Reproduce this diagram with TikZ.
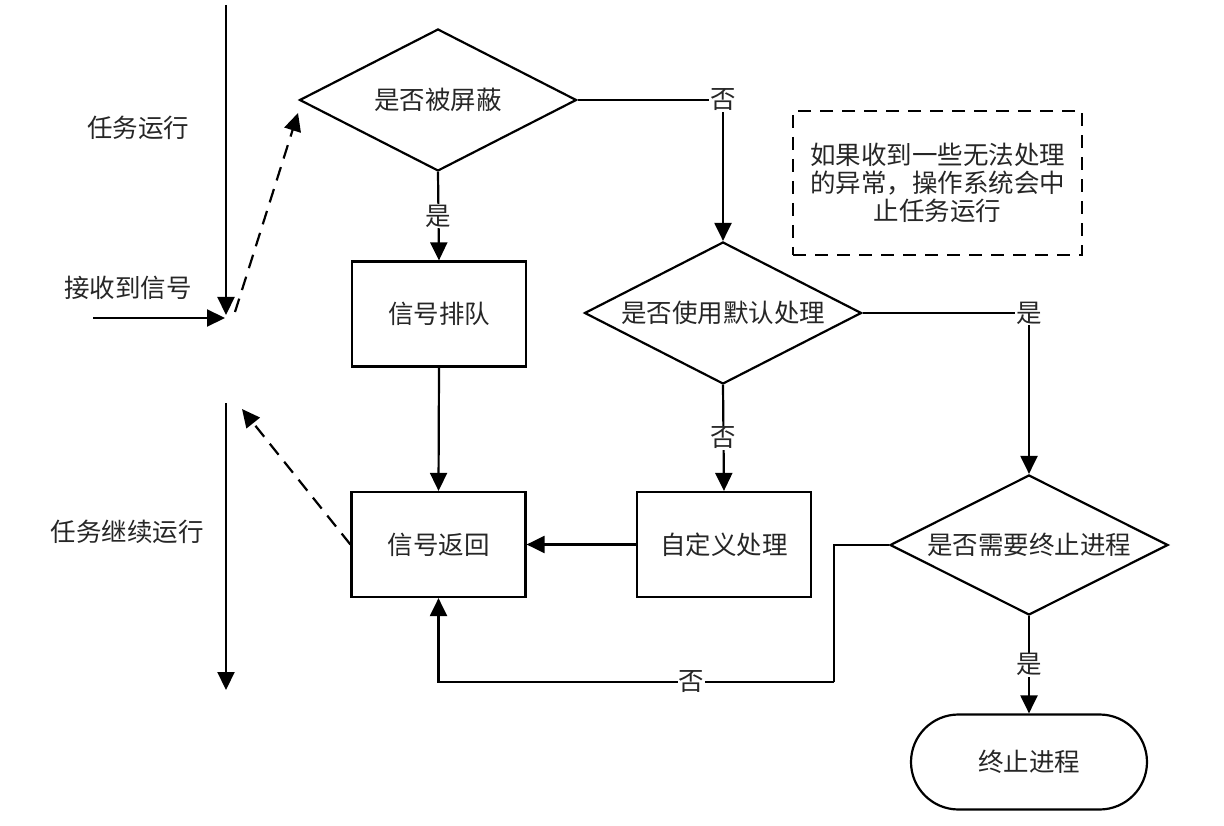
\documentclass[tikz,border=0pt]{standalone}
\usepackage{fontspec}
\setmainfont{Noto Sans CJK SC}
\usetikzlibrary{shapes.geometric,shapes.misc,arrows.meta}
\begin{document}
\begin{tikzpicture}[x=1pt,y=-1pt,
  every node/.style={font=\fontsize{25.5}{28}\selectfont, text=black!85},
  ln/.style={line width=2.2pt, draw=black},
  arr/.style={ln, -{Triangle[length=18pt,width=17pt]}},
  darr/.style={arr, dash pattern=on 14pt off 9pt},
  dec/.style={diamond, ln, shape aspect=1.95, inner sep=0pt, minimum width=277pt, minimum height=142pt},
  box/.style={rectangle, ln, inner sep=0pt, minimum width=174pt, minimum height=105pt},
  term/.style={rounded rectangle, ln, inner sep=0pt, minimum width=236pt, minimum height=95pt},
  note/.style={rectangle, ln, dash pattern=on 13pt off 9pt, inner sep=0pt, minimum width=289pt, minimum height=144pt, align=center},
  lbl/.style={fill=white, inner sep=1pt},
  txt/.style={inner sep=0pt}]
\useasboundingbox (0,0) rectangle (1224,826);

% nodes
\node[dec] (d1) at (438,100) {是否被屏蔽};
\node[dec] (d2) at (723,313) {是否使用默认处理};
\node[dec, minimum width=278pt, minimum height=140pt] (d3) at (1029,545) {是否需要终止进程};
\node[box] (q) at (439,314) {信号排队};
\node[box] (r) at (438.5,544.5) {信号返回};
\node[box] (c) at (724,544.5) {自定义处理};
\node[term] (t) at (1029,762) {终止进程};
\node[note] (n) at (937.5,183) {如果收到一些无法处理\\的异常，操作系统会中\\止任务运行};

\node[txt] (l1) at (138,128) {任务运行};
\node[txt] (l2) at (128,288) {接收到信号};
\node[txt] (l3) at (127,532) {任务继续运行};

% coordinates for free ends
\coordinate (top) at (226,5);
\coordinate (sigv) at (226,315);
\coordinate (in) at (93,318);
\coordinate (sigh) at (225,318);
\coordinate (ds) at (235,312);
\coordinate (dt) at (298,113);
\coordinate (ret) at (242,409);
\coordinate (bt) at (226,403);
\coordinate (bb) at (226,690);
\coordinate (k) at (834,682);

% timeline
\draw[arr] (top) -- (sigv);
\draw[arr] (in) -- (sigh);
\draw[darr] (ds) -- (dt);
\draw[arr] (bt) -- (bb);
\draw[darr] (r.west) -- (ret);

% flow
\draw[arr] (d1.east) -| node[lbl]{否} (d2.north);
\draw[arr] (d1.south) -- node[lbl]{是} (q.north);
\draw[arr] (q.south) -- (r.north);
\draw[arr] (d2.south) -- node[lbl]{否} (c.north);
\draw[arr] (d2.east) -| node[lbl]{是} (d3.north);
\draw[arr] (c.west) -- (r.east);
\draw[ln] (d3.west) -| (k);
\draw[arr] (k) -| node[lbl, pos=0.18]{否} (r.south);
\draw[arr] (d3.south) -- node[lbl]{是} (t.north);
\end{tikzpicture}
\end{document}
